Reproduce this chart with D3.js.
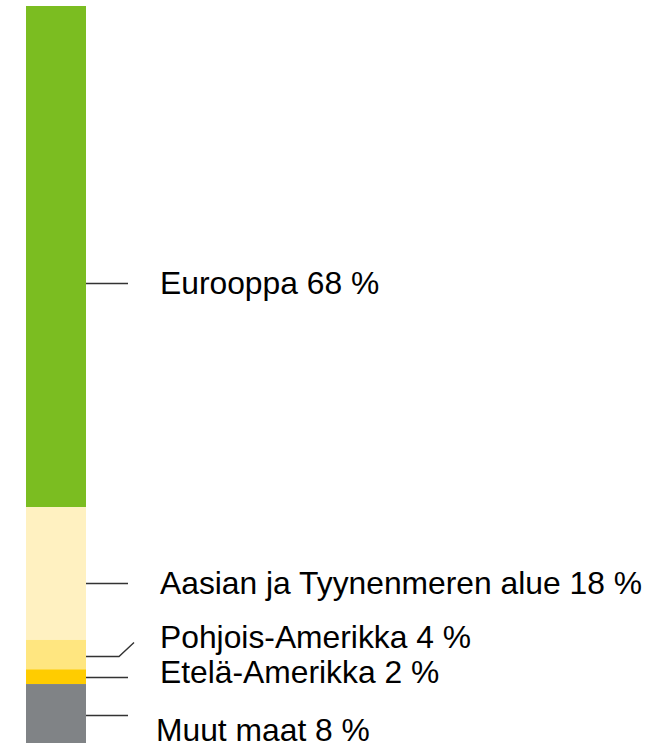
<!DOCTYPE html>
<html>
<head>
<meta charset="utf-8">
<script src="https://cdn.jsdelivr.net/npm/d3@7"></script>
<style>
  html, body { margin: 0; padding: 0; background: #fff; }
</style>
</head>
<body>
<div id="chart"></div>
<script>
const regions = ["Eurooppa", "Aasian ja Tyynenmeren alue", "Pohjois-Amerikka", "Etelä-Amerikka", "Muut maat"];
const shares = [68, 18, 4, 2, 8];
const colors = ["#7bbd21", "#fff1c1", "#ffe680", "#ffcc00", "#808386"];

// label layout (leader offset from segment middle, text baseline)
const leadOffset = [26, 10, 1, 0, 1];
const labelY = [294, 594, 648, 683, 741];
const labelX = [160, 160, 160, 160, 156];

const width = 662, height = 748;

const svg = d3.select("#chart").append("svg")
    .attr("width", width)
    .attr("height", height)
    .attr("font-family", "'Liberation Sans', Arial, sans-serif");

const y = d3.scaleLinear()
    .domain([0, d3.sum(shares)])
    .range([6, 743]);

const x = d3.scaleBand()
    .domain(["all"])
    .range([26, 86])
    .padding(0);

let acc = 0;
const segs = regions.map((r, i) => {
  const s = { name: r, value: shares[i], y0: acc, y1: acc + shares[i], color: colors[i], i };
  acc += shares[i];
  return s;
});

svg.append("g")
  .selectAll("rect")
  .data(segs)
  .join("rect")
    .attr("x", x("all"))
    .attr("width", x.bandwidth())
    .attr("y", d => y(d.y0))
    .attr("height", d => y(d.y1) - y(d.y0))
    .attr("fill", d => d.color);

// leader lines
const right = x("all") + x.bandwidth();
svg.append("g")
  .selectAll("path")
  .data(segs)
  .join("path")
    .attr("fill", "none")
    .attr("stroke", "#333")
    .attr("stroke-width", 1.4)
    .attr("d", d => {
      const ly = Math.round((y(d.y0) + y(d.y1)) / 2 + leadOffset[d.i]) + 0.5;
      if (d.name === "Pohjois-Amerikka") {
        return `M${right},${ly}H${right + 33}L${right + 48},${ly - 14}`;
      }
      return `M${right},${ly}H${right + 42}`;
    });

svg.append("g")
  .selectAll("text")
  .data(segs)
  .join("text")
    .attr("x", d => labelX[d.i])
    .attr("y", d => labelY[d.i])
    .attr("font-size", 31.8)
    .attr("fill", "#000")
    .text(d => `${d.name} ${d.value} %`);
</script>
</body>
</html>
